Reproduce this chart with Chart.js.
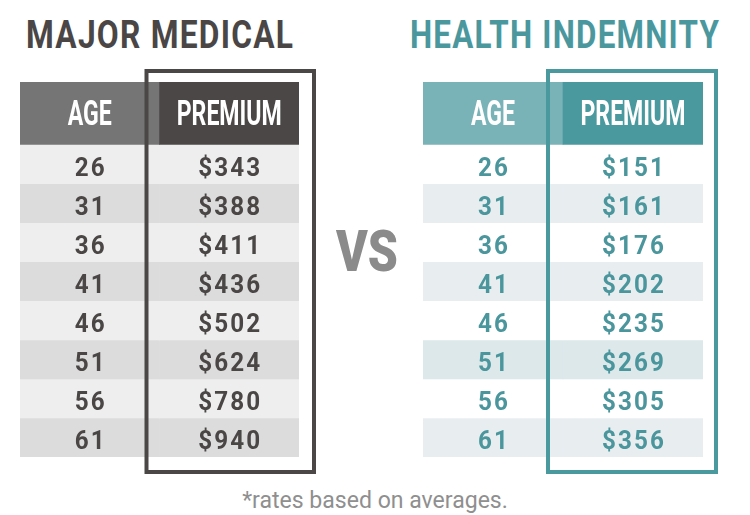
<!DOCTYPE html>
<html>
<head>
<meta charset="utf-8">
<script src="https://cdn.jsdelivr.net/npm/chart.js@4"></script>
<style>
  html, body { margin: 0; padding: 0; background: #ffffff; }
  #page { position: relative; width: 750px; height: 515px; overflow: hidden; background: #ffffff; }
  .title { position: absolute; font-family: Roboto, "Liberation Sans", sans-serif; font-weight: 700;
           font-size: 38px; line-height: 38px; white-space: nowrap; letter-spacing: 1.5px;
           transform-origin: left top; }
  #t1 { left: 26px; top: 16px; color: #4a4646; transform: scaleX(0.835); }
  #t2 { left: 410px; top: 16px; color: #4a989e; transform: scaleX(0.825); }
  #vs { position: absolute; left: 336px; top: 222px; font-family: Roboto, sans-serif; font-weight: 900;
        font-size: 58px; line-height: 58px; color: #8c8b8b; transform: scaleX(0.83); transform-origin: left top; }
  #note { position: absolute; left: 0; width: 750px; top: 488px; text-align: center; font-family: Roboto, sans-serif;
          font-weight: 400; font-size: 24px; line-height: 24px; color: #8f8f8f; transform: scaleX(0.96); transform-origin: center top; }
  canvas { position: absolute; top: 0; }
</style>
</head>
<body>
<div id="page">
  <div id="t1" class="title"></div>
  <div id="t2" class="title"></div>
  <div id="vs"></div>
  <div id="note"></div>
  <canvas id="c1" width="375" height="515" style="left:0"></canvas>
  <canvas id="c2" width="375" height="515" style="left:375px"></canvas>
</div>
<script>
// ---- data ----
const ages = [26, 31, 36, 41, 46, 51, 56, 61];
const majorMedicalPremiums = [343, 388, 411, 436, 502, 624, 780, 940];
const healthIndemnityPremiums = [151, 161, 176, 202, 235, 269, 305, 356];
const columnHeaders = ['AGE', 'PREMIUM'];
const tableTitles = ['MAJOR MEDICAL', 'HEALTH INDEMNITY'];
const vsLabel = 'VS';
const footnote = '*rates based on averages.';

document.getElementById('t1').textContent = tableTitles[0];
document.getElementById('t2').textContent = tableTitles[1];
document.getElementById('vs').textContent = vsLabel;
document.getElementById('note').textContent = footnote;

const HEADER = 1.6; // header row height in row units

function drawLabel(ctx, text, cx, baseline, font, color, sx, spacing) {
  ctx.save();
  ctx.font = font;
  ctx.fillStyle = color;
  ctx.textAlign = 'center';
  ctx.textBaseline = 'alphabetic';
  if ('letterSpacing' in ctx) ctx.letterSpacing = spacing + 'px'; else spacing = 0;
  ctx.translate(cx, baseline);
  ctx.scale(sx, 1);
  ctx.fillText(text, spacing / 2, 0);
  ctx.restore();
}

const tablePlugin = {
  id: 'tableText',
  afterDatasetsDraw(chart) {
    const o = chart.options.plugins.tableText;
    const ctx = chart.ctx;
    const x = chart.scales.x, y = chart.scales.y;
    const headY = y.getPixelForValue(HEADER / 2) + 12;
    columnHeaders.forEach((h, c) => {
      drawLabel(ctx, h, x.getPixelForValue(c), headY, '700 35px Roboto', '#ffffff', 0.66, 0);
    });
    ages.forEach((a, i) => {
      const by = y.getPixelForValue(HEADER + i + 0.5) + 11.5;
      drawLabel(ctx, String(a), x.getPixelForValue(0), by, '700 25px Roboto', o.textColor, 0.97, 2.2);
      drawLabel(ctx, '$' + o.premiums[i], x.getPixelForValue(1), by, '700 25px Roboto', o.textColor, 0.97, 2.2);
    });
    // highlight box around premium column
    const colW = x.getPixelForValue(1) - x.getPixelForValue(0);
    const l = x.getPixelForValue(1) - colW / 2 - o.box[0];
    const r = x.getPixelForValue(1) + colW / 2 + o.box[1];
    const t = y.getPixelForValue(0) - 11;
    const b = y.getPixelForValue(HEADER + ages.length) + 15;
    ctx.save();
    ctx.strokeStyle = o.boxColor;
    ctx.lineWidth = 4;
    ctx.strokeRect(l, t, r - l, b - t);
    ctx.restore();
  }
};

function makeTable(id, premiums, theme, padLeft, padRight) {
  const datasets = [{
    label: 'header',
    data: columnHeaders.map(() => [0, HEADER]),
    backgroundColor: theme.header
  }];
  ages.forEach((a, i) => {
    datasets.push({
      label: String(a),
      data: columnHeaders.map(() => [HEADER + i, HEADER + i + 1]),
      backgroundColor: theme.rows[i]
    });
  });
  return new Chart(document.getElementById(id), {
    type: 'bar',
    data: { labels: columnHeaders, datasets },
    options: {
      responsive: false, animation: false, devicePixelRatio: 1, events: [],
      layout: { padding: { left: padLeft, right: padRight, top: 82, bottom: 58 } },
      datasets: { bar: { grouped: false, barPercentage: 1, categoryPercentage: 1, borderWidth: 0 } },
      scales: {
        x: { type: 'category', display: false, offset: true },
        y: { type: 'linear', display: false, min: 0, max: HEADER + ages.length, reverse: true }
      },
      plugins: {
        legend: { display: false }, tooltip: { enabled: false }, title: { display: false },
        tableText: { premiums, textColor: theme.text, boxColor: theme.box, box: theme.boxPad }
      }
    },
    plugins: [tablePlugin]
  });
}

makeTable('c1', majorMedicalPremiums, {
  header: ['#767575', '#4b4747'],
  rows: ['#eeeeee', '#dddcdc', '#eeeeee', '#dddcdc', '#eeeeee', '#dddcdc', '#eeeeee', '#dddcdc'],
  text: '#4a4646', box: '#4b4747', boxPad: [13, 15]
}, 20, 76);

makeTable('c2', healthIndemnityPremiums, {
  header: ['#79b3b8', '#4a999e'],
  rows: ['#ffffff', '#e8eef0', '#ffffff', '#e8eef0', '#ffffff', '#dce8ea', '#ffffff', '#e8eef0'],
  text: '#4a969c', box: '#4a999e', boxPad: [15, 13]
}, 48, 47);
</script>
</body>
</html>
